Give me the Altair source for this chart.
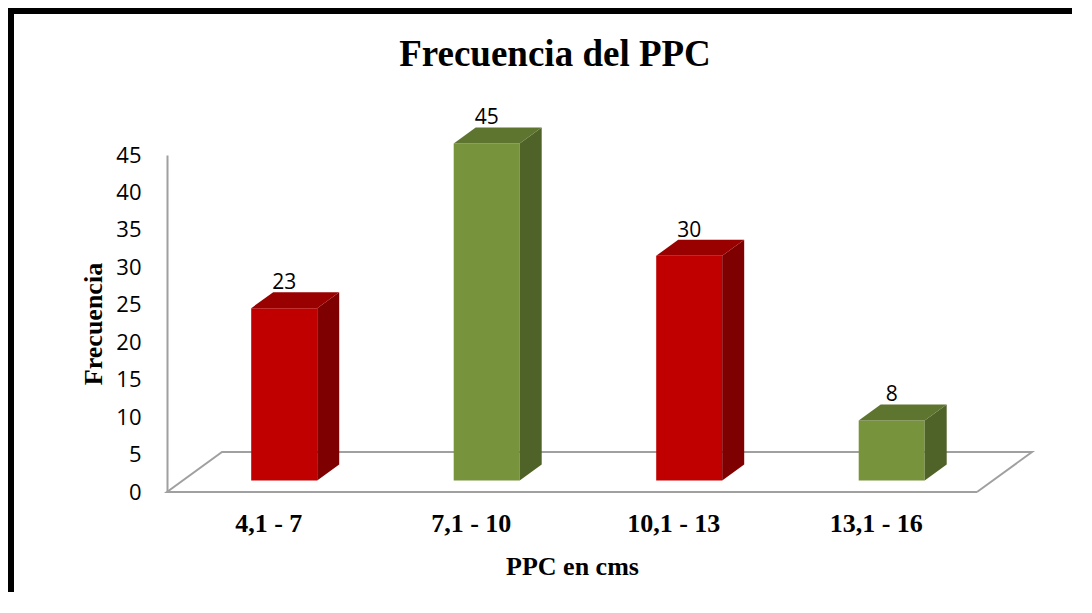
import json
import altair as alt
import pandas as pd

# ---------------- data ----------------
categories = ["4,1 - 7", "7,1 - 10", "10,1 - 13", "13,1 - 16"]
values = [23, 45, 30, 8]
front_colors = ["#C00000", "#77933C", "#C00000", "#77933C"]
side_colors = ["#7F0000", "#4F6228", "#7F0000", "#4F6228"]
top_colors = ["#990000", "#5E7530", "#990000", "#5E7530"]
y_ticks = [0, 5, 10, 15, 20, 25, 30, 35, 40, 45]
chart_title = "Frecuencia del PPC"
x_title = "PPC en cms"
y_title = "Frecuencia"

# ---------------- geometry (style) ----------------
W, H = 810, 337
PX_X = W / 4.0           # px per category unit
PX_Y = H / 45.0          # px per frequency unit
DEPTH_X = 55 / PX_X      # full floor depth, x component (category units)
DEPTH_Y = 40 / PX_Y      # full floor depth, y component (frequency units)
FRONT, BACK = 0.29, 0.69 # bar depth span (fraction of floor depth)
BAR_W = 66 / PX_X

t = BACK - FRONT
ddx, ddy = t * DEPTH_X, t * DEPTH_Y

front_rows, side_rows, top_rows, label_rows = [], [], [], []
for i, (c, v) in enumerate(zip(categories, values)):
    cx = i + 0.5 + FRONT * DEPTH_X
    xl, xr = cx - BAR_W / 2, cx + BAR_W / 2
    y0 = FRONT * DEPTH_Y
    y1 = y0 + v
    front_rows.append(dict(cat=c, xl=xl, xr=xr, y0=y0, y1=y1, col=front_colors[i]))
    side_rows += [
        dict(cat=c, sx=xr, slo=y0, shi=y1, col=side_colors[i]),
        dict(cat=c, sx=xr + ddx, slo=y0 + ddy, shi=y1 + ddy, col=side_colors[i]),
    ]
    top_rows += [
        dict(cat=c, ty=y1, txa=xl, txb=xr, col=top_colors[i]),
        dict(cat=c, ty=y1 + ddy, txa=xl + ddx, txb=xr + ddx, col=top_colors[i]),
    ]
    label_rows.append(dict(cat=c, lx=cx, ly=y1 + ddy, val=v))

n = len(categories)
floor_rows = [
    dict(o=0, fx=float(n), fy=0.0),
    dict(o=1, fx=0.0, fy=0.0),
    dict(o=2, fx=DEPTH_X, fy=DEPTH_Y),
    dict(o=3, fx=n + DEPTH_X, fy=DEPTH_Y),
    dict(o=4, fx=float(n), fy=0.0),
]

xs = alt.Scale(domain=[0, n], nice=False, zero=False)
ys = alt.Scale(domain=[0, 45], nice=False, zero=False)

label_expr = json.dumps(categories) + "[floor(datum.value)]"
x_axis = alt.Axis(
    values=[i + 0.5 for i in range(n)], labelExpr=label_expr, grid=False, ticks=False,
    domain=False, labelOverlap=False, labelFont="Liberation Serif", labelFontWeight="bold",
    labelFontSize=26, labelColor="black", labelPadding=18, title=x_title,
    titleFont="Liberation Serif", titleFontWeight="bold", titleFontSize=26,
    titleColor="black", titlePadding=17,
)
y_axis = alt.Axis(
    values=y_ticks, grid=False, ticks=False, domainColor="#A0A0A0", domainWidth=2,
    labelOverlap=False, labelFont="Open Sans", labelFontSize=22, labelColor="black",
    labelPadding=26, title=y_title, titleFont="Liberation Serif", titleFontWeight="bold",
    titleFontSize=26, titleColor="black", titlePadding=9,
)


def X(f):
    return alt.X(f, type="quantitative", scale=xs, axis=x_axis)


def Y(f):
    return alt.Y(f, type="quantitative", scale=ys, axis=y_axis)


floor = alt.Chart(pd.DataFrame(floor_rows)).mark_line(color="#A0A0A0", strokeWidth=2).encode(
    x=X("fx"), y=Y("fy"), order="o:Q"
)

front = alt.Chart(pd.DataFrame(front_rows)).mark_rect().encode(
    x=X("xl"), x2="xr", y=Y("y0"), y2="y1", color=alt.Color("col:N", scale=None)
)

side = alt.Chart(pd.DataFrame(side_rows)).mark_area(orient="vertical").encode(
    x=X("sx"), y=Y("slo"), y2="shi", detail="cat:N", color=alt.Color("col:N", scale=None)
)

top = alt.Chart(pd.DataFrame(top_rows)).mark_area(orient="horizontal").encode(
    y=Y("ty"), x=X("txa"), x2="txb", detail="cat:N", color=alt.Color("col:N", scale=None)
)

labels = alt.Chart(pd.DataFrame(label_rows)).mark_text(
    font="Open Sans", fontSize=21, baseline="alphabetic", align="center", dy=-3, color="black"
).encode(x=X("lx"), y=Y("ly"), text="val:Q")

title = alt.Chart(pd.DataFrame({"t": [chart_title]})).mark_text(
    font="Liberation Serif", fontSize=37, fontWeight="bold", align="center",
    baseline="alphabetic", color="black"
).encode(x=alt.value(388), y=alt.value(-89), text="t:N")

border = alt.Chart(pd.DataFrame({"b": [1]})).mark_rect(
    fillOpacity=0, stroke="black", strokeWidth=6
).encode(x=alt.value(-156), x2=alt.value(1000), y=alt.value(-144), y2=alt.value(700))

chart = alt.layer(floor, front, side, top, labels, title, border).properties(
    width=W, height=H,
    autosize=alt.AutoSizeParams(type="none"),
    padding={"left": 159, "top": 147, "right": 95, "bottom": 100},
).configure_view(stroke=None)

chart.save("out.html", embed_options={"renderer": "svg", "actions": False})
